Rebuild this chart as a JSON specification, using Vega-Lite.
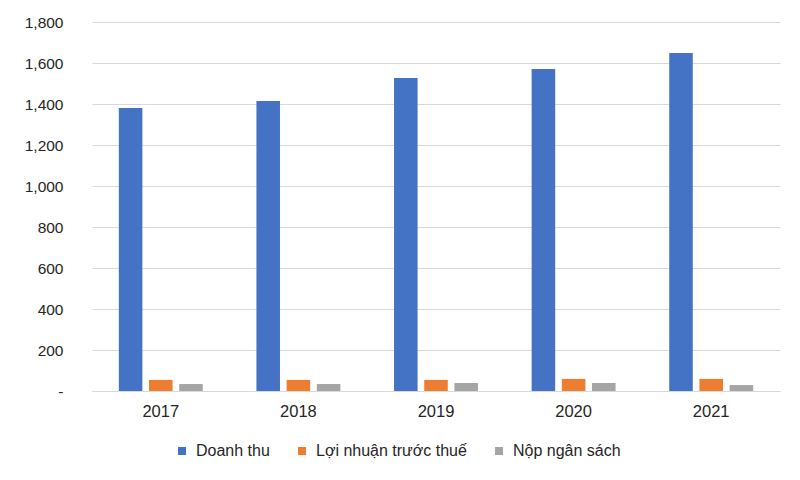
{
  "$schema": "https://vega.github.io/schema/vega-lite/v6.json",
  "width": 688,
  "height": 369,
  "autosize": {"type": "none"},
  "padding": {"left": 92, "top": 22, "right": 20, "bottom": 89},
  "background": "white",
  "data": {
    "values": [
      {"year": "2017", "series": "Doanh thu", "value": 1380},
      {"year": "2017", "series": "Lợi nhuận trước thuế", "value": 54},
      {"year": "2017", "series": "Nộp ngân sách", "value": 34},
      {"year": "2018", "series": "Doanh thu", "value": 1415},
      {"year": "2018", "series": "Lợi nhuận trước thuế", "value": 54},
      {"year": "2018", "series": "Nộp ngân sách", "value": 34},
      {"year": "2019", "series": "Doanh thu", "value": 1527},
      {"year": "2019", "series": "Lợi nhuận trước thuế", "value": 54},
      {"year": "2019", "series": "Nộp ngân sách", "value": 39},
      {"year": "2020", "series": "Doanh thu", "value": 1571},
      {"year": "2020", "series": "Lợi nhuận trước thuế", "value": 59},
      {"year": "2020", "series": "Nộp ngân sách", "value": 39},
      {"year": "2021", "series": "Doanh thu", "value": 1649},
      {"year": "2021", "series": "Lợi nhuận trước thuế", "value": 59},
      {"year": "2021", "series": "Nộp ngân sách", "value": 29}
    ]
  },
  "mark": {"type": "bar"},
  "encoding": {
    "x": {
      "field": "year",
      "type": "nominal",
      "title": null,
      "scale": {"paddingInner": 0.39, "paddingOuter": 0.195},
      "axis": {"labelAngle": 0, "ticks": false, "domain": true, "domainColor": "#d9d9d9", "labelPadding": 12, "labelFontSize": 16.5}
    },
    "xOffset": {
      "field": "series",
      "type": "nominal",
      "sort": ["Doanh thu", "Lợi nhuận trước thuế", "Nộp ngân sách"],
      "scale": {"paddingInner": 0.22}
    },
    "y": {
      "field": "value",
      "type": "quantitative",
      "title": null,
      "scale": {"domain": [0, 1800]},
      "axis": {
        "values": [0, 200, 400, 600, 800, 1000, 1200, 1400, 1600, 1800],
        "labelExpr": "datum.value == 0 ? '-' : format(datum.value, ',')",
        "ticks": false,
        "domain": false,
        "labelPadding": 29,
        "labelFontSize": 15.5,
        "gridColor": "#d9d9d9"
      }
    },
    "color": {
      "field": "series",
      "type": "nominal",
      "title": null,
      "sort": ["Doanh thu", "Lợi nhuận trước thuế", "Nộp ngân sách"],
      "scale": {
        "domain": ["Doanh thu", "Lợi nhuận trước thuế", "Nộp ngân sách"],
        "range": ["#4472C4", "#ED7D31", "#A5A5A5"]
      },
      "legend": {
        "orient": "none",
        "legendX": 82,
        "legendY": 421,
        "direction": "horizontal",
        "symbolType": "square",
        "symbolSize": 64,
        "symbolStrokeWidth": 0,
        "labelFontSize": 16,
        "labelOffset": 6,
        "columnPadding": 24
      }
    }
  },
  "config": {
    "font": "Liberation Sans",
    "view": {"stroke": null},
    "axis": {"labelColor": "#262626", "labelFont": "Liberation Sans"},
    "legend": {"labelColor": "#262626", "labelFont": "Liberation Sans"}
  }
}
